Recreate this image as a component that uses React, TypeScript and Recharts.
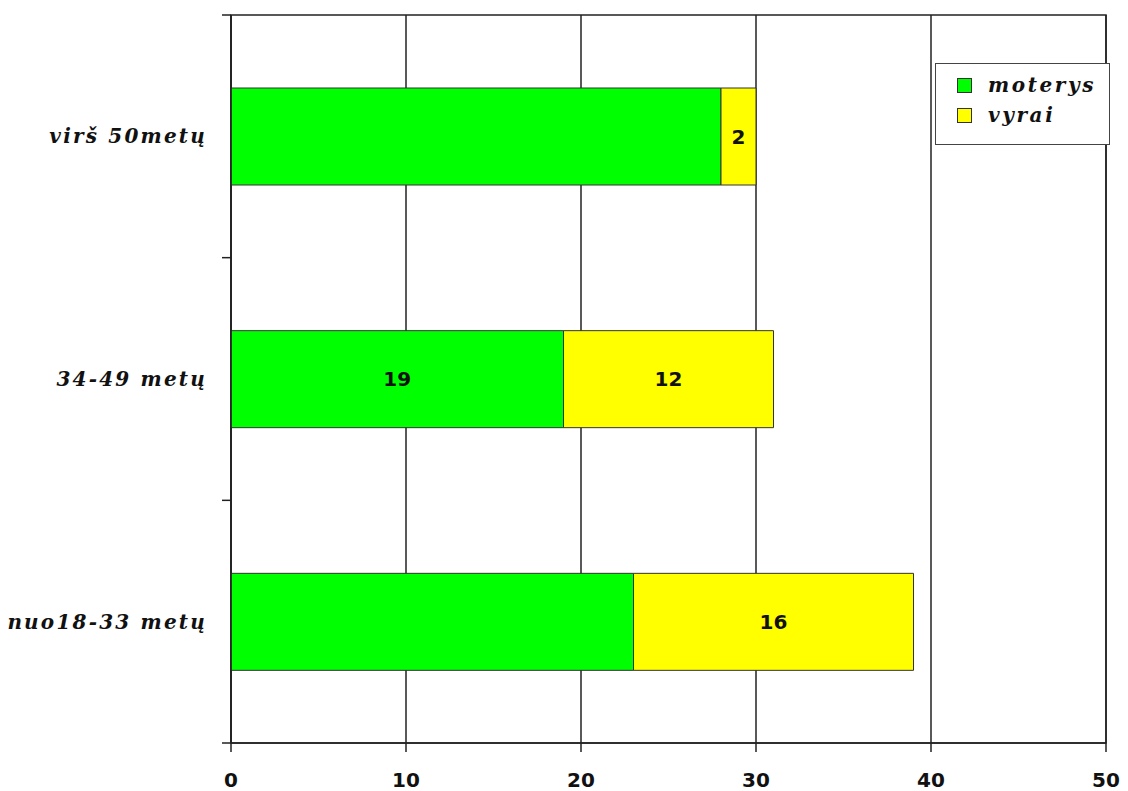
import { BarChart, Bar, XAxis, YAxis, CartesianGrid, ReferenceArea, Legend, LabelList } from "recharts";

// age groups, top to bottom
const categories = ["virš 50metų", "34-49 metų", "nuo18-33 metų"];
const moterys = [28, 19, 23];
const vyrai = [2, 12, 16];
// only some segments carry a value label
const moterysShown = [false, true, false];
const vyraiShown = [true, true, true];
const xTicks = [0, 10, 20, 30, 40, 50];

const series = [
  { key: "moterys", name: "moterys", color: "#00ff00" },
  { key: "vyrai", name: "vyrai", color: "#ffff00" },
];

const W = 1128;
const H = 791;
const margin = { top: 15, right: 22, left: 0, bottom: 0 };
const Y_AXIS_W = 231;
const X_AXIS_H = 48;
const band = (H - margin.top - X_AXIS_H) / categories.length;

const LINE = "#222";
const serifFont = "'DejaVu Serif', serif";
const sansFont = "'DejaVu Sans', sans-serif";

const data = categories.map((name, i) => ({
  name,
  moterys: moterys[i],
  vyrai: vyrai[i],
  moterysLabel: moterysShown[i] ? moterys[i] : null,
  vyraiLabel: vyraiShown[i] ? vyrai[i] : null,
}));

// category label plus tick marks sitting on the band edges
function CategoryTick(props: any) {
  const { y, payload, index } = props;
  const ax = Y_AXIS_W;
  return (
    <g>
      {index === 0 && (
        <line x1={ax - 9} x2={ax} y1={y - band / 2} y2={y - band / 2} stroke={LINE} strokeWidth={1.5} />
      )}
      <line x1={ax - 9} x2={ax} y1={y + band / 2} y2={y + band / 2} stroke={LINE} strokeWidth={1.5} />
      <text
        x={ax - 24}
        y={y}
        dy="0.35em"
        textAnchor="end"
        fill="#111"
        fontFamily={serifFont}
        fontStyle="italic"
        fontWeight="bold"
        fontSize={20}
        letterSpacing={2.2}
      >
        {payload.value}
      </text>
    </g>
  );
}

function LegendBox() {
  return (
    <div
      style={{
        background: "#fff",
        border: "1.5px solid #444",
        width: 175,
        height: 82,
        boxSizing: "border-box",
        padding: "6px 0 0 21px",
        fontFamily: serifFont,
        fontStyle: "italic",
        fontWeight: "bold",
        fontSize: 20,
        letterSpacing: 2.6,
        color: "#111",
      }}
    >
      {series.map((s) => (
        <div key={s.key} style={{ display: "flex", alignItems: "center", height: 30 }}>
          <span
            style={{
              display: "inline-block",
              width: 13,
              height: 13,
              background: s.color,
              border: "1px solid #333",
              marginRight: 16,
            }}
          />
          {s.name}
        </div>
      ))}
    </div>
  );
}

const labelStyle = { fontFamily: sansFont, fontWeight: "bold", fontSize: 20, fill: "#111" };

export default function App() {
  return (
    <div style={{ width: W, height: H, background: "#fff" }}>
      <style>{"body{margin:0}"}</style>
      <BarChart width={W} height={H} data={data} layout="vertical" margin={margin}>
        <CartesianGrid horizontal={false} stroke={LINE} strokeWidth={1.5} />
        <XAxis
          type="number"
          domain={[0, 50]}
          ticks={xTicks}
          height={X_AXIS_H}
          tickSize={9}
          tickMargin={21}
          axisLine={{ stroke: LINE, strokeWidth: 1.5 }}
          tickLine={{ stroke: LINE, strokeWidth: 1.5 }}
          tick={{ fontFamily: sansFont, fontWeight: "bold", fontSize: 20, fill: "#111" }}
        />
        <YAxis
          type="category"
          dataKey="name"
          width={Y_AXIS_W}
          axisLine={{ stroke: LINE, strokeWidth: 1.5 }}
          tickLine={false}
          tick={<CategoryTick />}
        />
        <ReferenceArea x1={0} x2={50} fill="#fff" fillOpacity={0} stroke={LINE} strokeWidth={1.5} />
        <Legend
          layout="vertical"
          align="center"
          verticalAlign="middle"
          wrapperStyle={{ left: 935, top: 63, width: 175 }}
          content={<LegendBox />}
        />
        <Bar dataKey="moterys" name="moterys" stackId="a" fill="#00ff00" stroke="#333" strokeWidth={1} barSize={97} isAnimationActive={false}>
          <LabelList dataKey="moterysLabel" position="center" style={labelStyle} />
        </Bar>
        <Bar dataKey="vyrai" name="vyrai" stackId="a" fill="#ffff00" stroke="#333" strokeWidth={1} barSize={97} isAnimationActive={false}>
          <LabelList dataKey="vyraiLabel" position="center" style={labelStyle} />
        </Bar>
      </BarChart>
    </div>
  );
}
